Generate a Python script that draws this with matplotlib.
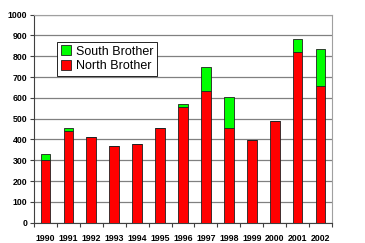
import numpy as np
import matplotlib
matplotlib.use("Agg")
import matplotlib.pyplot as plt

# ===============================
# DATA
# ===============================

years = ["1990", "1991", "1992", "1993", "1994", "1995", "1996",
         "1997", "1998", "1999", "2000", "2001", "2002"]
north = [302, 442, 410, 367, 378, 455, 555, 632, 454, 397, 488, 821, 657]
south = [28, 12, 3, 0, 0, 0, 14, 118, 150, 0, 2, 61, 177]

# ===============================
# PLOT
# ===============================

plt.rcParams["font.family"] = ["Liberation Sans", "DejaVu Sans"]

fig = plt.figure(figsize=(3.65, 2.43), dpi=100)
ax = fig.add_axes([34 / 365, 20.3 / 243, 298 / 365, 208 / 243])

x = np.arange(len(years))
w = 0.42
ax.bar(x, north, width=w, color="#ff0000", edgecolor="#202020",
       linewidth=0.6, label="North Brother", zorder=3)
ax.bar(x, south, width=w, bottom=north, color="#00ff00",
       edgecolor="#202020", linewidth=0.6, label="South Brother", zorder=3)

ax.set_xlim(-0.5, len(years) - 0.5)
ax.set_ylim(0, 1000)
ax.set_yticks(range(0, 1001, 100))
ax.set_xticks(x)
ax.set_xticklabels(years, fontsize=6.3, fontweight="bold")
ax.set_xticks(np.arange(-0.5, len(years)), minor=True)
ax.tick_params(axis="x", which="major", length=0, pad=8)
ax.tick_params(axis="x", which="minor", length=3, width=0.8, color="#404040")
ax.tick_params(axis="y", length=3, width=0.8, color="#404040", pad=2)
for lab in ax.get_yticklabels():
    lab.set_fontsize(6.3)
    lab.set_fontweight("bold")

ax.yaxis.grid(True, color="#808080", linewidth=0.9, zorder=0)
for side in ["top", "right"]:
    ax.spines[side].set_color("#a0a0a0")
    ax.spines[side].set_linewidth(0.8)
for side in ["left", "bottom"]:
    ax.spines[side].set_color("#404040")
    ax.spines[side].set_linewidth(0.8)

handles, labels = ax.get_legend_handles_labels()
leg = ax.legend(handles[::-1], labels[::-1], loc="upper left",
                bbox_to_anchor=(0.078, 0.87), fontsize=9, frameon=True,
                fancybox=False, edgecolor="#000000", framealpha=1,
                handlelength=0.8, handleheight=0.8, handletextpad=0.4,
                borderpad=0.3, labelspacing=0.2, borderaxespad=0)
leg.get_frame().set_linewidth(0.6)

fig.savefig("out.png", dpi=100)
